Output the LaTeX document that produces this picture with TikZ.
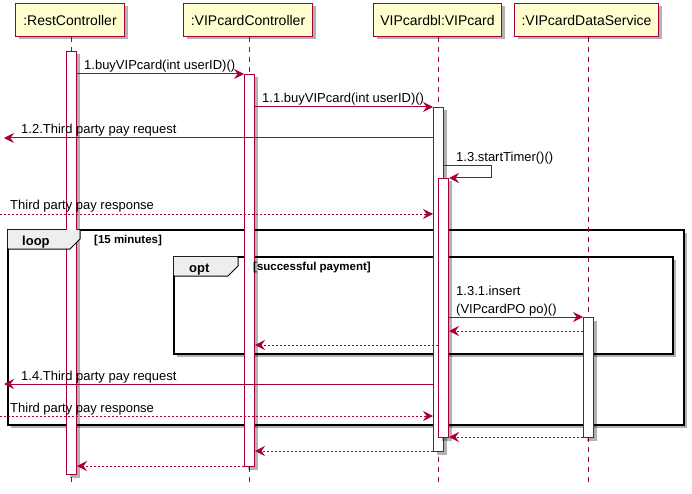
\documentclass[tikz,border=0pt]{standalone}
\usepackage{fontspec}
\setmainfont{Liberation Sans}
\usetikzlibrary{arrows.meta,shadows,calc}
\definecolor{umlred}{HTML}{A80036}
\definecolor{umlfill}{HTML}{FEFECE}
\definecolor{tabfill}{HTML}{EEEEEE}
\tikzset{
  softshadow/.style={drop shadow={shadow xshift=3pt,shadow yshift=-3pt,fill=black,opacity=.3}},
  participant/.style={draw=umlred,fill=umlfill,line width=1pt,inner sep=0pt,anchor=north west,
    font=\fontsize{14}{16}\selectfont,softshadow},
  actbar/.style={draw=umlred,fill=white,line width=1pt,inner sep=0pt,anchor=north west,
    minimum width=10pt,softshadow},
  lifeline/.style={draw=umlred,line width=1pt,dash pattern=on 5pt off 5pt},
  msg/.style={draw=umlred,line width=1pt,-{Stealth[length=10pt,width=10pt,inset=3.5pt]}},
  ret/.style={msg,dash pattern=on 2pt off 2pt},
  lbl/.style={font=\fontsize{13}{15}\selectfont,anchor=base west,inner sep=0pt},
  umlframe/.style={draw=black,fill=white,line width=1.8pt,inner sep=0pt,anchor=north west,softshadow},
  tabfillst/.style={fill=tabfill},
  tabedge/.style={draw=black,line width=1pt},
  kw/.style={font=\bfseries\fontsize{13}{15}\selectfont,anchor=base west,inner sep=0pt},
  guard/.style={font=\bfseries\fontsize{11.5}{13}\selectfont,anchor=base west,inner sep=0pt},
}
\begin{document}
\begin{tikzpicture}[x=1pt,y=-1pt]
\useasboundingbox[fill=white] (0,0) rectangle (692,494);

% frames (background part)
\node[umlframe,minimum width=676pt,minimum height=195pt] (loopf) at (7,229) {};
\node[umlframe,minimum width=499pt,minimum height=97pt] (optf) at (173,256) {};

% participants
\node[participant,minimum width=109pt,minimum height=33pt] (pRC) at (15,3) {:RestController};
\node[participant,minimum width=129pt,minimum height=33pt] (pVC) at (183,3) {:VIPcardController};
\node[participant,minimum width=128pt,minimum height=33pt] (pV) at (373,3) {VIPcardbl:VIPcard};
\node[participant,minimum width=144pt,minimum height=33pt] (pDS) at (514,3) {:VIPcardDataService};

% lifeline ends
\coordinate (eRC) at (71,483);
\coordinate (eVC) at (249,483);
\coordinate (eV) at (438,483);
\coordinate (eDS) at (588,483);
\draw[lifeline] (pRC.south -| eRC) -- (eRC);
\draw[lifeline] (pVC.south -| eVC) -- (eVC);
\draw[lifeline] (pV.south -| eV) -- (eV);
\draw[lifeline] (pDS.south -| eDS) -- (eDS);

% activation bars
\node[actbar,minimum height=423pt] (aRC) at (66,51) {};
\node[actbar,minimum height=392pt] (aVC) at (244,74) {};
\node[actbar,minimum height=344pt] (aV1) at (433,107) {};
\node[actbar,minimum height=259pt] (aV2) at (438,178) {};
\node[actbar,minimum height=120pt] (aDS) at (583,317) {};

% frame tabs
\fill[tabfillst] (7.9,229.9) -- (79.5,229.9) -- (79.5,239) -- (70,248.5) -- (7.9,248.5) -- cycle;
\draw[tabedge] (7,249) -- (70,249) -- (80,239) -- (80,229);
\fill[tabfillst] (173.9,256.9) -- (237.5,256.9) -- (237.5,266) -- (228,275.5) -- (173.9,275.5) -- cycle;
\draw[tabedge] (173,276) -- (228,276) -- (238,266) -- (238,256);
\node[kw] (kloop) at (22,245.5) {loop};
\node[guard] (gloop) at (94,243) {[15 minutes]};
\node[kw] (kopt) at (189,272) {opt};
\node[guard] (gopt) at (253,270) {[successful payment]};

% y-levels
\coordinate (y1) at (0,74);
\coordinate (y2) at (0,107);
\coordinate (y4) at (0,166);
\coordinate (y4b) at (0,178);
\coordinate (y6) at (0,317);
\coordinate (y7) at (0,331);
\coordinate (y8) at (0,345);
\coordinate (y12) at (0,437);
\coordinate (y13) at (0,451);
\coordinate (y14) at (0,466);
\coordinate (left3) at (4,138);
\coordinate (left5) at (0,214);
\coordinate (left9) at (4,384);
\coordinate (left10) at (0,416);
\coordinate (turn4) at (491,166);

% messages
\draw[msg] (aRC.east |- y1) -- (aVC.west |- y1);
\node[lbl] (l1) at (84,70) {1.buyVIPcard(int userID)()};
\draw[msg] (aVC.east |- y2) -- (aV1.west |- y2);
\node[lbl] (l2) at (262,103) {1.1.buyVIPcard(int userID)()};
\draw[msg] (aV1.west |- left3) -- (left3);
\node[lbl] (l3) at (21,134) {1.2.Third party pay request};
\draw[msg] (aV1.east |- y4) -- (turn4) |- (aV2.east |- y4b);
\node[lbl] (l4) at (456,162) {1.3.startTimer()()};
\draw[ret] (left5) -- (aV1.west |- left5);
\node[lbl] (l5) at (10,210) {Third party pay response};
\draw[msg] (aV2.east |- y6) -- (aDS.west |- y6);
\node[lbl] (l6a) at (456,295) {1.3.1.insert};
\node[lbl] (l6b) at (456,313) {(VIPcardPO po)()};
\draw[ret] (aDS.west |- y7) -- (aV2.east |- y7);
\draw[ret] (aV2.west |- y8) -- (aVC.east |- y8);
\draw[msg] (aV1.west |- left9) -- (left9);
\node[lbl] (l9) at (21,380) {1.4.Third party pay request};
\draw[ret] (left10) -- (aV1.west |- left10);
\node[lbl] (l10) at (10,412) {Third party pay response};
\draw[ret] (aDS.west |- y12) -- (aV2.east |- y12);
\draw[ret] (aV1.west |- y13) -- (aVC.east |- y13);
\draw[ret] (aVC.west |- y14) -- (aRC.east |- y14);
\end{tikzpicture}
\end{document}
